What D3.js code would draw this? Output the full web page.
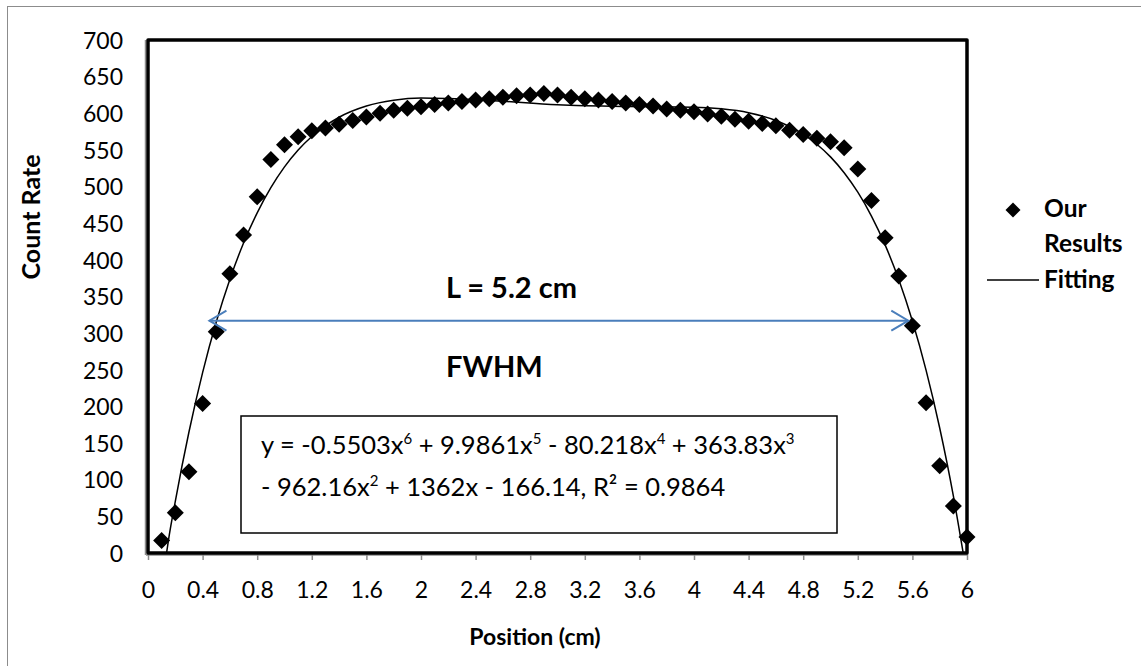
<!DOCTYPE html>
<html>
<head>
<meta charset="utf-8">
<script src="https://cdn.jsdelivr.net/npm/d3@7/dist/d3.min.js"></script>
<style>
  html, body { margin: 0; padding: 0; background: #fff; }
  svg { display: block; }
  text { font-family: Lato, "Open Sans", sans-serif; fill: #000; }
</style>
</head>
<body>
<svg id="chart" width="1141" height="666"></svg>
<script>
// ---- data ----
const positions = [0.1,0.2,0.3,0.4,0.5,0.6,0.7,0.8,0.9,1.0,
  1.1,1.2,1.3,1.4,1.5,1.6,1.7,1.8,1.9,2.0,
  2.1,2.2,2.3,2.4,2.5,2.6,2.7,2.8,2.9,3.0,
  3.1,3.2,3.3,3.4,3.5,3.6,3.7,3.8,3.9,4.0,
  4.1,4.2,4.3,4.4,4.5,4.6,4.7,4.8,4.9,5.0,
  5.1,5.2,5.3,5.4,5.5,5.6,5.7,5.8,5.9,6.0];
const countRate = [17,55,111,204,302,381,434,486,537,557,
  568,576,580,585,590,595,600,604,607,609,
  612,614,616,618,620,622,624,625,627,625,
  622,620,618,616,614,612,610,606,604,602,
  599,596,592,589,586,583,577,571,566,561,
  553,524,481,430,378,310,205,119,64,22];

// fitted trend line (sampled from the curve in the picture)
const fitX = [0.136,0.15,0.2,0.3,0.4,0.5,0.6,0.7,0.8,0.9,1.0,1.1,1.2,1.4,1.6,1.8,2.0,2.5,3.0,3.5,4.0,4.2,4.4,4.6,4.8,4.9,5.0,5.1,5.2,5.3,5.4,5.5,5.6,5.7,5.8,5.9,5.972];
const fitY = [0,17.7,70.6,165.1,246.1,315.1,373.6,423.0,464.2,498.5,526.8,549.8,568.3,594.6,609.9,617.8,620.7,617.5,611.6,609.2,608.4,606.1,600.8,590.2,571.4,557.8,540.5,518.9,492.3,459.8,420.4,373.1,316.5,249.5,170.6,77.9,0];

const xTicks = [0,0.4,0.8,1.2,1.6,2,2.4,2.8,3.2,3.6,4,4.4,4.8,5.2,5.6,6];
const xTickLabels = ["0","0.4","0.8","1.2","1.6","2","2.4","2.8","3.2","3.6","4","4.4","4.8","5.2","5.6","6"];
const yTicks = [0,50,100,150,200,250,300,350,400,450,500,550,600,650,700];

const arrowFrom = 0.45, arrowTo = 5.57, arrowLevel = 317;

const eqLine1 = [["y = -0.5503x",""],["6",1],[" + 9.9861x",""],["5",1],[" - 80.218x",""],["4",1],[" + 363.83x",""],["3",1]];
const eqLine2 = [["- 962.16x",""],["2",1],[" + 1362x - 166.14, R² = 0.9864",""]];

const legendLabels = ["Our", "Results", "Fitting"];

// ---- layout ----
const svg = d3.select("#chart");
const L = 148, R = 967, T = 40, B = 553;
const x = d3.scaleLinear().domain([0, 6]).range([L, R]);
const y = d3.scaleLinear().domain([0, 700]).range([B, T]);

// outer chart border
svg.append("rect").attr("x", 7.5).attr("y", 6.5).attr("width", 1150).attr("height", 680)
  .attr("fill", "#fff").attr("stroke", "#8c8c8c").attr("stroke-width", 1);

// x axis ticks (gray)
const xAxis = d3.axisBottom(x).tickValues(xTicks).tickSize(6).tickFormat((d, i) => xTickLabels[i]);
const gx = svg.append("g").attr("transform", `translate(0,${B + 1})`).call(xAxis);
gx.select(".domain").remove();
gx.selectAll(".tick line").attr("stroke", "#8c8c8c").attr("stroke-width", 1.5);
gx.selectAll(".tick text").attr("font-size", 23).attr("y", 0).attr("dy", null)
  .attr("transform", "translate(0,44)").style("font-family", "Lato, sans-serif").attr("fill", "#000");

// y axis labels (no tick marks)
const yAxis = d3.axisLeft(y).tickValues(yTicks).tickSize(0).tickPadding(25);
const gy = svg.append("g").attr("transform", `translate(${L},0)`).call(yAxis);
gy.select(".domain").remove();
gy.selectAll(".tick text").attr("font-size", 23).attr("dy", "0.36em")
  .style("font-family", "Lato, sans-serif").attr("fill", "#000");

// plot frame
svg.append("line").attr("x1", L - 2.5).attr("x2", L - 2.5).attr("y1", T).attr("y2", B + 2)
  .attr("stroke", "#8c8c8c").attr("stroke-width", 1.5);
svg.append("line").attr("x1", L - 2).attr("x2", R).attr("y1", B + 2).attr("y2", B + 2)
  .attr("stroke", "#8c8c8c").attr("stroke-width", 1.5);
svg.append("rect").attr("x", L).attr("y", T).attr("width", R - L).attr("height", B - T)
  .attr("fill", "none").attr("stroke", "#000").attr("stroke-width", 3.5)
  .attr("stroke-linejoin", "round");

// equation box
svg.append("rect").attr("x", 241).attr("y", 416).attr("width", 596).attr("height", 117)
  .attr("fill", "#fff").attr("stroke", "#000").attr("stroke-width", 1.5);

function eq(parts, tx, ty) {
  const t = svg.append("text").attr("x", tx).attr("y", ty).attr("font-size", 25.5);
  let up = false;
  parts.forEach(([s, sup]) => {
    const sp = t.append("tspan").text(s);
    if (sup && !up) { sp.attr("dy", -10).attr("font-size", 15); up = true; }
    else if (!sup && up) { sp.attr("dy", 10); up = false; }
  });
}
eq(eqLine1, 261, 454);
eq(eqLine2, 261, 496);

// fitted line
const fitData = fitX.map((v, i) => [v, fitY[i]]);
svg.append("path").datum(fitData)
  .attr("d", d3.line().x(d => x(d[0])).y(d => y(d[1])).curve(d3.curveMonotoneX))
  .attr("fill", "none").attr("stroke", "#000").attr("stroke-width", 1.5);

// data points (diamonds)
const h = 8.5;
svg.append("g").selectAll("path").data(positions.map((p, i) => [p, countRate[i]]))
  .join("path")
  .attr("d", d => { const cx = x(d[0]), cy = y(d[1]);
    return `M${cx},${cy - h}L${cx + h},${cy}L${cx},${cy + h}L${cx - h},${cy}Z`; })
  .attr("fill", "#000");

// FWHM arrow
const ax1 = x(arrowFrom), ax2 = x(arrowTo), ay = y(arrowLevel);
const blue = "#4a7ebb";
svg.append("line").attr("x1", ax1).attr("x2", ax2).attr("y1", ay).attr("y2", ay)
  .attr("stroke", blue).attr("stroke-width", 2);
svg.append("path").attr("d", `M${ax1 + 17},${ay - 10}L${ax1},${ay}L${ax1 + 17},${ay + 10}`)
  .attr("fill", "none").attr("stroke", blue).attr("stroke-width", 2);
svg.append("path").attr("d", `M${ax2 - 17},${ay - 10}L${ax2},${ay}L${ax2 - 17},${ay + 10}`)
  .attr("fill", "none").attr("stroke", blue).attr("stroke-width", 2);

// annotations
svg.append("text").attr("x", 446).attr("y", 298).attr("font-size", 29).attr("font-weight", "bold").text("L = 5.2 cm");
svg.append("text").attr("x", 446).attr("y", 377).attr("font-size", 29).attr("font-weight", "bold").text("FWHM");

// axis titles
svg.append("text").attr("transform", "translate(40,217) rotate(-90)").attr("text-anchor", "middle")
  .attr("font-size", 25).attr("font-weight", "bold").text("Count Rate");
svg.append("text").attr("x", 535).attr("y", 645).attr("text-anchor", "middle")
  .attr("font-size", 23).attr("font-weight", "bold").text("Position (cm)");

// legend
const lg = svg.append("g");
lg.append("path").attr("d", `M1013,${210 - 7.5}L1020.5,210L1013,${210 + 7.5}L1005.5,210Z`).attr("fill", "#000");
const legY = [217, 252, 288];
legendLabels.forEach((s, i) => {
  lg.append("text").attr("x", 1044).attr("y", legY[i]).attr("font-size", 24.5)
    .attr("font-weight", "bold").text(s);
});
lg.append("line").attr("x1", 987).attr("x2", 1039).attr("y1", 280).attr("y2", 280)
  .attr("stroke", "#000").attr("stroke-width", 1.5);
</script>
</body>
</html>
